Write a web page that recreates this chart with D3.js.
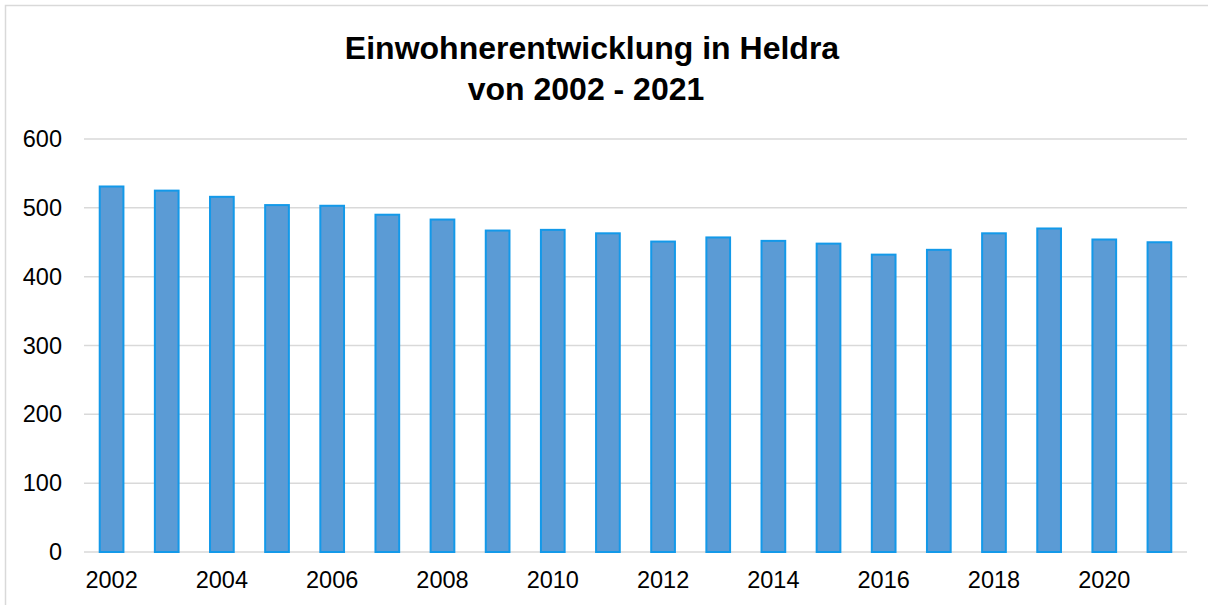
<!DOCTYPE html>
<html>
<head>
    <title>Einwohnerentwicklung in Heldra</title>
    <script src="https://d3js.org/d3.v7.min.js"></script>
    <style>
        body {
            margin: 0;
            background: #fff;
            font-family: "Liberation Sans", Arial, sans-serif;
        }

        .grid line {
            stroke: #d9d9d9;
            stroke-width: 1.5;
        }

        .tick-label {
            font-size: 23.5px;
            fill: #000;
        }
    </style>
</head>
<body>
    <div id="chart"></div>

    <script>
        const years = [2002, 2003, 2004, 2005, 2006, 2007, 2008, 2009, 2010, 2011,
            2012, 2013, 2014, 2015, 2016, 2017, 2018, 2019, 2020, 2021];
        const residents = [531, 525, 516, 504, 503, 490, 483, 467, 468, 463,
            451, 457, 452, 448, 432, 439, 463, 470, 454, 450];
        const yTicks = [0, 100, 200, 300, 400, 500, 600];
        const xLabels = [2002, 2004, 2006, 2008, 2010, 2012, 2014, 2016, 2018, 2020];
        const titleLines = ["Einwohnerentwicklung in Heldra", "von 2002 - 2021"];

        const width = 1208,
            height = 605;
        const margin = { top: 139, right: 21, bottom: 53, left: 84 };
        const innerW = width - margin.left - margin.right,
            innerH = height - margin.top - margin.bottom;

        const svg = d3.select("#chart")
            .append("svg")
            .attr("width", width)
            .attr("height", height);

        // chart frame (only top and left edge are visible)
        svg.append("path")
            .attr("d", `M5.5,${height}V5.5H${width}`)
            .attr("fill", "none")
            .attr("stroke", "#d9d9d9")
            .attr("stroke-width", 1.5);

        const g = svg.append("g")
            .attr("transform", `translate(${margin.left},${margin.top})`);

        const x = d3.scaleBand()
            .domain(years)
            .range([0, innerW])
            .paddingInner(0.57)
            .paddingOuter(0.285);

        const y = d3.scaleLinear()
            .domain([0, 600])
            .range([innerH, 0]);

        // gridlines
        g.append("g")
            .attr("class", "grid")
            .selectAll("line")
            .data(yTicks)
            .join("line")
            .attr("x1", 0)
            .attr("x2", innerW)
            .attr("y1", d => y(d))
            .attr("y2", d => y(d));

        // y labels
        g.append("g")
            .selectAll("text")
            .data(yTicks)
            .join("text")
            .attr("class", "tick-label")
            .attr("text-anchor", "end")
            .attr("x", -22)
            .attr("y", d => y(d) + 8)
            .text(d => d);

        // bars
        g.selectAll(".bar")
            .data(years)
            .join("rect")
            .attr("class", "bar")
            .attr("x", d => x(d))
            .attr("width", x.bandwidth())
            .attr("y", (d, i) => y(residents[i]))
            .attr("height", (d, i) => innerH - y(residents[i]))
            .attr("fill", "#5b9bd5")
            .attr("stroke", "#1399e9")
            .attr("stroke-width", 2);

        // x labels (every other year)
        g.append("g")
            .selectAll("text")
            .data(xLabels)
            .join("text")
            .attr("class", "tick-label")
            .attr("text-anchor", "middle")
            .attr("x", d => x(d) + x.bandwidth() / 2)
            .attr("y", innerH + 36)
            .text(d => d);

        // title - second line sits a bit left of the first in the original
        svg.append("g")
            .selectAll("text")
            .data(titleLines)
            .join("text")
            .attr("x", (d, i) => i === 0 ? 592 : 586)
            .attr("y", (d, i) => 59 + i * 41)
            .attr("text-anchor", "middle")
            .attr("font-size", 32)
            .attr("font-weight", "bold")
            .text(d => d);
    </script>
</body>
</html>
